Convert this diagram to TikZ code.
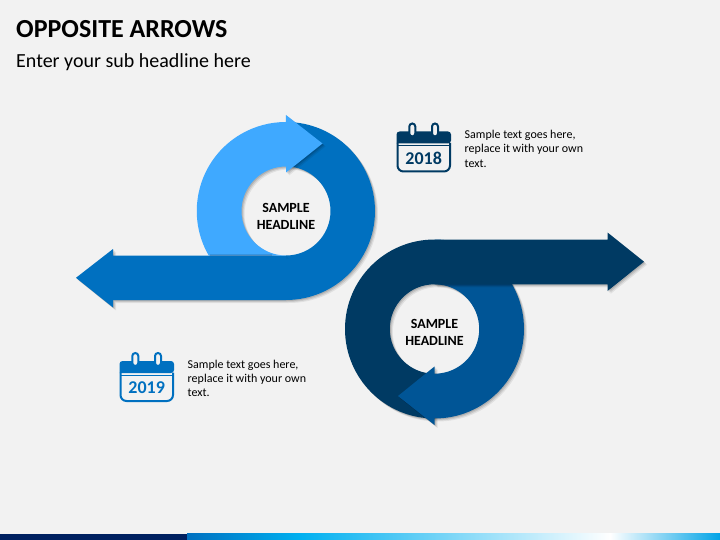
\documentclass[tikz,border=0pt]{standalone}
\usepackage{fontspec}
\setmainfont{Carlito}
\usetikzlibrary{positioning}
\definecolor{pagebg}{HTML}{F2F2F2}
\definecolor{lightarrow}{HTML}{3FA9FF}
\definecolor{bluearrow}{HTML}{0070C0}
\definecolor{darkarrow}{HTML}{003A63}
\definecolor{midarrow}{HTML}{005596}
\definecolor{barnavy}{HTML}{002060}
\definecolor{barcyan}{HTML}{00B0F0}

\begin{document}
\begin{tikzpicture}[x=1pt, y=-1pt,
	softshadow/.style={
		preaction={fill=black, opacity=.07, transform canvas={shift={(3pt,-3pt)}}},
		preaction={fill=black, opacity=.10, transform canvas={shift={(2pt,-2pt)}}},
		preaction={fill=black, opacity=.12, transform canvas={shift={(1pt,-1pt)}}}},
	headline/.style={font=\bfseries\fontsize{14}{17}\selectfont, align=center, text=black, inner sep=0pt},
	bodytext/.style={font=\fontsize{12}{14.3}\selectfont, align=left, text=black, inner sep=0pt, anchor=north west},
	yearlabel/.style={font=\bfseries\fontsize{18}{18}\selectfont, inner sep=0pt}]
	\fill[pagebg] (0,0) rectangle (720,540);
	\useasboundingbox (0,0) rectangle (720,540);

	% bottom bar
	\fill[barnavy] (0,533.5) rectangle (187,540);
	\shade[left color=bluearrow, right color=barcyan] (187,533.5) rectangle (300,540);
	\shade[left color=barcyan, right color=white] (300,533.5) rectangle (610,540);
	\shade[left color=white, right color=barcyan!80!bluearrow] (610,533.5) rectangle (720,540);

	% titles
	\node[anchor=base west, inner sep=0pt, font=\bfseries\fontsize{26}{26}\selectfont] (title) at (16,38) {OPPOSITE ARROWS};
	\node[anchor=base west, inner sep=0pt, font=\fontsize{20}{20}\selectfont] (subtitle) at (16,67.5) {Enter your sub headline here};

	% upper arrow
	\fill[bluearrow, softshadow] (286,122) arc[start angle=-90, end angle=90, radius=89] -- (113,300) -- (113,307.5) -- (76,277.8) -- (113,249) -- (113,255.5) -- (286,255.5) arc[start angle=90, end angle=-90, radius=44.5] -- cycle;
	\fill[lightarrow, softshadow] (208.7,255.5) arc[start angle=150, end angle=270, radius=89] -- (286,115) -- (322.5,143.5) -- (286,172.5) -- (286,166.5) arc[start angle=270, end angle=90, radius=44.5] -- cycle;
	\fill[bluearrow] (200,255.5) rectangle (286,264);
	\fill[black, opacity=.12] (210,253.5) rectangle (272,255.5);
	\node[headline] (upperhead) at (286,216) {SAMPLE\\HEADLINE};

	% lower arrow
	\fill[midarrow, softshadow] (434.5,239.5) arc[start angle=-90, end angle=90, radius=89.5] -- (434.5,373.7) arc[start angle=90, end angle=-90, radius=44.7] -- cycle;
	\fill[darkarrow, softshadow] (607.5,239.5) -- (434.5,239.5) arc[start angle=-90, end angle=-270, radius=89.5] -- (434.5,373.7) arc[start angle=90, end angle=270, radius=44.7] -- (607.5,284.3) -- (607.5,291) -- (644,261.7) -- (607.5,232.5) -- cycle;
	\fill[midarrow, softshadow] (434.5,425) -- (398,396) -- (434.5,366.5) -- cycle;
	\fill[midarrow] (430,373.5) rectangle (445,418);
	\node[headline] (lowerhead) at (434.5,332) {SAMPLE\\HEADLINE};

	% calendars
	\begin{scope}[shift={(396.5,123)}, darkarrow]
		\fill[rounded corners=3pt] (0,20.5) -- (0,8.5) -- (54.5,8.5) -- (54.5,20.5) [sharp corners] -- cycle;
		\draw[line width=2pt, rounded corners=6pt] (1,20) -- (1,48.5) -- (53.5,48.5) -- (53.5,20);
		\draw[line width=1pt] (1,23) -- (53.5,23);
		\foreach \ringx in {15.8,38.5}
			\draw[line width=2pt, fill=pagebg, rounded corners=3pt] (\ringx-3,0.5) rectangle (\ringx+3,13.5);
		\node[yearlabel] (year2018) at (27.2,35.5) {2018};
	\end{scope}
	\node[bodytext] (text2018) at (464.5,130) {Sample text goes here,\\replace it with your own\\text.};

	\begin{scope}[shift={(119.5,352.5)}, bluearrow]
		\fill[rounded corners=3pt] (0,20.5) -- (0,8.5) -- (54.5,8.5) -- (54.5,20.5) [sharp corners] -- cycle;
		\draw[line width=2pt, rounded corners=6pt] (1,20) -- (1,48.5) -- (53.5,48.5) -- (53.5,20);
		\draw[line width=1pt] (1,23) -- (53.5,23);
		\foreach \ringx in {15.8,38.5}
			\draw[line width=2pt, fill=pagebg, rounded corners=3pt] (\ringx-3,0.5) rectangle (\ringx+3,13.5);
		\node[yearlabel] (year2019) at (27.2,35.5) {2019};
	\end{scope}
	\node[bodytext] (text2019) at (187.5,359.5) {Sample text goes here,\\replace it with your own\\text.};
\end{tikzpicture}
\end{document}
